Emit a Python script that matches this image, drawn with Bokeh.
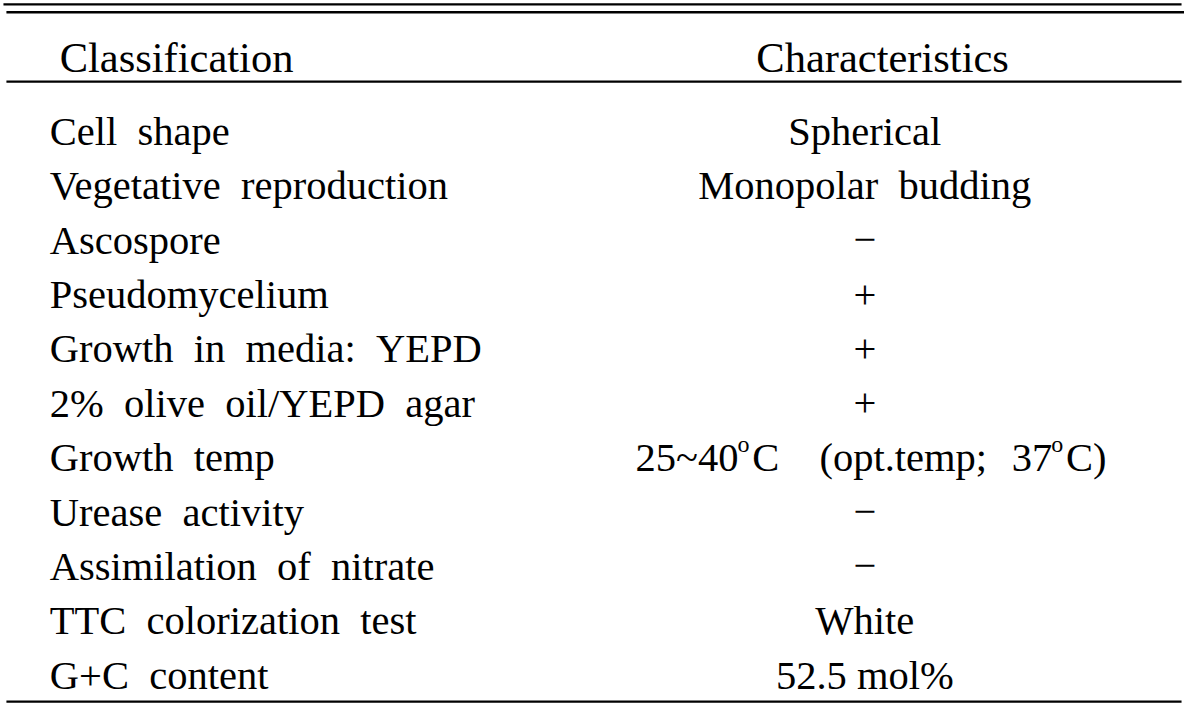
from bokeh.plotting import figure
from bokeh.models import ColumnDataSource
from bokeh.core.properties import value
from bokeh.embed import file_html
from bokeh.resources import INLINE

SP = " \u00a0"  # wide word gap as in the reference

header_left = "Classification"
header_right = "Characteristics"

classification = [
    "Cell" + SP + "shape",
    "Vegetative" + SP + "reproduction",
    "Ascospore",
    "Pseudomycelium",
    "Growth" + SP + "in" + SP + "media:" + SP + "YEPD",
    "2%" + SP + "olive" + SP + "oil/YEPD" + SP + "agar",
    "Growth" + SP + "temp",
    "Urease" + SP + "activity",
    "Assimilation" + SP + "of" + SP + "nitrate",
    "TTC" + SP + "colorization" + SP + "test",
    "G+C" + SP + "content",
]

characteristics = [
    "Spherical",
    "Monopolar" + SP + "budding",
    "\u2212",
    "+",
    "+",
    "+",
    "",  # growth temperature drawn piecewise below (superscript o)
    "\u2212",
    "\u2212",
    "White",
    "52.5 mol%",
]

# "25~40 oC (opt.temp; 37 oC)" with superscript o's
temp_row = 6
temp_parts = ["25~40", "o", "C", "(opt.temp;", "37", "o", "C)"]
temp_kind = ["end", "sup", "start", "start", "end", "sup", "start"]
temp_x = [748, 747, 762, 830, 1066, 1065, 1080]

# layout (in page-pixel units of a 1200 x 721 sheet)
ROW0 = 134.0
ROW_STEP = 55.6
LEFT_X = 50
RIGHT_X = 876
rows = list(range(len(classification)))
ys = [ROW0 + ROW_STEP * i for i in rows]

src = ColumnDataSource(dict(
    y=ys,
    xl=[LEFT_X] * len(rows),
    xr=[RIGHT_X] * len(rows),
    left=classification,
    right=characteristics,
))

p = figure(width=1184, height=705, x_range=(0, 1200), y_range=(721, 0),
           output_backend="svg", toolbar_location=None, min_border=0)
p.axis.visible = False
p.grid.visible = False
p.outline_line_color = None
p.background_fill_color = "white"
p.border_fill_color = "white"

FONT = value("Liberation Serif")
FS = "40.5px"
FS_HEAD = "42.5px"
FS_SUP = "24px"

# rules
p.segment(x0=[3, 6, 6, 6], x1=[1197, 1200, 1197, 1197],
          y0=[4, 12, 83, 717], y1=[4, 12, 83, 717],
          line_color="black", line_width=2.4)

# header
p.text(x=[60], y=[58], text=[header_left], text_font=FONT, text_font_size=FS_HEAD,
       text_color="black", text_align="left", text_baseline="alphabetic")
p.text(x=[1022], y=[58], text=[header_right], text_font=FONT, text_font_size=FS_HEAD,
       text_color="black", text_align="right", text_baseline="alphabetic")

# body
p.text(x="xl", y="y", text="left", source=src, text_font=FONT, text_font_size=FS,
       text_color="black", text_align="left", text_baseline="alphabetic")
p.text(x="xr", y="y", text="right", source=src, text_font=FONT, text_font_size=FS,
       text_color="black", text_align="center", text_baseline="alphabetic")

ty = ys[temp_row]
for kind, align, dy, fs in [("end", "right", 0, FS), ("start", "left", 0, FS),
                            ("sup", "left", -14, FS_SUP)]:
    idx = [i for i, k in enumerate(temp_kind) if k == kind]
    p.text(x=[temp_x[i] for i in idx], y=[ty + dy] * len(idx),
           text=[temp_parts[i] for i in idx],
           text_font=FONT, text_font_size=fs, text_color="black",
           text_align=align, text_baseline="alphabetic")

open("out.html", "w").write(file_html(p, INLINE))
